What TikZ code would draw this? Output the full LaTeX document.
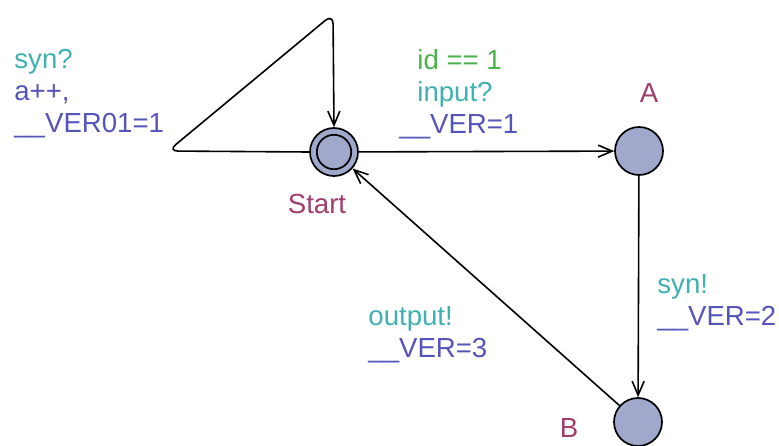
\documentclass[tikz,border=0pt]{standalone}
\usepackage{fontspec}
\setmainfont{Liberation Sans}
\usetikzlibrary{arrows.meta, positioning}

\definecolor{synccol}{RGB}{64,176,176}
\definecolor{guardcol}{RGB}{72,180,72}
\definecolor{updcol}{RGB}{84,84,186}
\definecolor{namecol}{RGB}{160,60,110}
\definecolor{locfill}{RGB}{160,168,204}

\tikzset{
  loc/.style={circle, draw, line width=0.85pt, fill=locfill, minimum size=24pt, inner sep=0pt},
  initloc/.style={loc, path picture={\draw[line width=0.85pt] (path picture bounding box.center) circle (8.6pt);}},
  edge/.style={line width=0.8pt, -{Straight Barb[length=7pt, width=6pt, line width=0.8pt]}},
  lbl/.style={anchor=base west, inner sep=0pt, font=\fontsize{13.8}{16}\selectfont},
  locname/.style={anchor=base, inner sep=0pt, text=namecol, font=\fontsize{13.8}{16}\selectfont},
}

\begin{document}
\begin{tikzpicture}[x=0.5pt, y=-0.5pt]
  \useasboundingbox (0,0) rectangle (779,445);

  % locations
  \node[initloc] (start) at (334,152) {};
  \node[loc] (a) at (639,151) {};
  \node[loc] (b) at (638,422) {};
  \node[locname] (startname) at (317,213) {Start};
  \node[locname] (aname) at (649,102) {A};
  \node[locname] (bname) at (569,437) {B};

  % self loop on Start
  \coordinate (loopl) at (168,151);
  \coordinate (loopt) at (333,14);
  \draw[edge, rounded corners=5pt] (start.west) -- (loopl) -- (loopt) -- (start.north);
  \node[lbl, text=synccol] (loopsync) at (14,68) {syn?};
  \node[lbl, text=updcol] (loopupd) at ([yshift=-16pt]loopsync.base west) {a++,};
  \node[lbl, text=updcol] (loopupdb) at ([yshift=-16pt]loopupd.base west) {\_\_VER01=1};

  % Start -> A
  \draw[edge] (start) -- (a);
  \node[lbl, text=guardcol] (sag) at (417,69) {id == 1};
  \node[lbl, text=synccol] (sas) at ([yshift=-16pt]sag.base west) {input?};
  \node[lbl, text=updcol] (sau) at (399,133) {\_\_VER=1};

  % A -> B
  \draw[edge] (a) -- (b);
  \node[lbl, text=synccol] (abs) at (657,293) {syn!};
  \node[lbl, text=updcol] (abu) at ([yshift=-16pt]abs.base west) {\_\_VER=2};

  % B -> Start
  \draw[edge] (b) -- (start);
  \node[lbl, text=synccol] (bss) at (368,325) {output!};
  \node[lbl, text=updcol] (bsu) at ([yshift=-16pt]bss.base west) {\_\_VER=3};
\end{tikzpicture}
\end{document}
